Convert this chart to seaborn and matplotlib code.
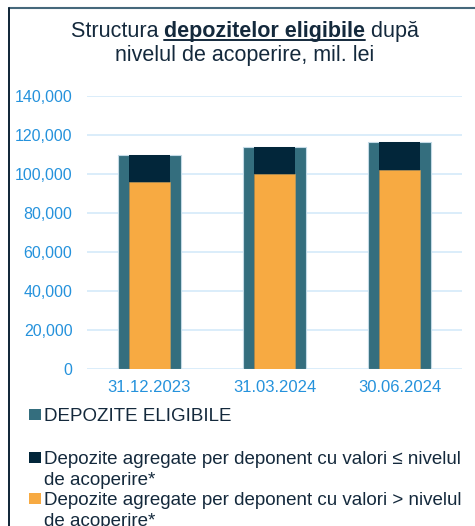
import matplotlib
matplotlib.use("Agg")
import matplotlib.pyplot as plt
import seaborn as sns
import pandas as pd
from matplotlib.lines import Line2D
from matplotlib.patches import Rectangle
from matplotlib.ticker import FuncFormatter

# values, mil. lei
dates = ["31.12.2023", "31.03.2024", "30.06.2024"]
eligibile = [110000, 113800, 116700]
peste_nivel = [95900, 100000, 102000]      # orange, bottom part
sub_nivel = [14100, 13800, 14700]          # dark, stacked on top

legend_labels = [
    ["DEPOZITE ELIGIBILE"],
    ["Depozite agregate per deponent cu valori \u2264 nivelul", "de acoperire*"],
    ["Depozite agregate per deponent cu valori > nivelul", "de acoperire*"],
]

c_total = "#346E7E"
c_dark = "#02263A"
c_orange = "#F7AA42"
c_tick = "#2592DC"
c_text = "#14293C"

df = pd.DataFrame({"data": dates, "total": eligibile,
                   "peste": peste_nivel, "sub": sub_nivel})
df["stack"] = df["peste"] + df["sub"]

sns.set_style("white")
plt.rcParams["font.family"] = ["Liberation Sans", "DejaVu Sans"]

W, H = 475, 526
fig = plt.figure(figsize=(W / 100, H / 100), dpi=100)
ax = fig.add_axes([87 / W, 1 - 369 / H, 375 / W, 272.7 / H])

sns.barplot(data=df, x="data", y="total", color=c_total, saturation=1,
            width=0.5, edgecolor="#C3DAE6", linewidth=0.8, ax=ax, zorder=2)
sns.barplot(data=df, x="data", y="stack", color=c_dark, saturation=1,
            width=0.333, linewidth=0, ax=ax, zorder=3)
sns.barplot(data=df, x="data", y="peste", color=c_orange, saturation=1,
            width=0.333, edgecolor="#C9A060", linewidth=0.4, ax=ax, zorder=4)

ax.set_xlim(-0.5, 2.5)
ax.set_ylim(0, 140000)
ax.set_yticks(range(0, 140001, 20000))
ax.yaxis.set_major_formatter(FuncFormatter(lambda v, p: f"{int(v):,}"))
ax.grid(axis="y", color="#D8ECFA", linewidth=1.3)
ax.set_axisbelow(True)
ax.set_xlabel("")
ax.set_ylabel("")
for s in ax.spines.values():
    s.set_visible(False)
ax.tick_params(axis="y", length=0, pad=10.5, labelsize=11.5, labelcolor=c_tick)
ax.tick_params(axis="x", length=0, pad=8, labelsize=12, labelcolor=c_tick)

# frame around the chart
fig.add_artist(Line2D([9 / W, 1.02], [1 - 8 / H, 1 - 8 / H], color="#46687B",
                      linewidth=1.5, transform=fig.transFigure))
fig.add_artist(Line2D([9 / W, 9 / W], [1 - 8 / H, -0.02], color="#0E2436",
                      linewidth=1.4, transform=fig.transFigure))

# title with bold underlined part
fig.canvas.draw()
r = fig.canvas.get_renderer()
parts = [("Structura ", "normal"), ("depozitelor eligibile", "bold"), (" dup\u0103", "normal")]
ts = 15.5
tmp = []
for txt, wgt in parts:
    t = fig.text(0, 0, txt, fontsize=ts, fontweight=wgt, color=c_text)
    tmp.append(t)
widths = [t.get_window_extent(r).width for t in tmp]
total_w = sum(widths)
x0 = 245 - total_w / 2
yb = H - 36.7
for t, w in zip(tmp, widths):
    t.set_position((x0 / W, yb / H))
    t.set_va("baseline")
    if t.get_fontweight() == "bold":
        fig.add_artist(Line2D([x0 / W, (x0 + w) / W], [(yb - 3) / H, (yb - 3) / H],
                              color=c_text, linewidth=1.4, transform=fig.transFigure))
    x0 += w
fig.text(245 / W, (H - 60.6) / H, "nivelul de acoperire, mil. lei", fontsize=ts,
         color=c_text, ha="center", va="baseline")

# legend
marker_cols = [c_total, c_dark, c_orange]
marker_y = [414.5, 457.7, 498.2]
for col, my, lines in zip(marker_cols, marker_y, legend_labels):
    fig.add_artist(Rectangle((29 / W, (H - my - 5.5) / H), 11.5 / W, 11 / H,
                             facecolor=col, edgecolor="none", transform=fig.transFigure))
    for i, line in enumerate(lines):
        fig.text(44 / W, (H - my - 6.5 - 21 * i) / H, line, fontsize=13.5,
                 color=c_text, va="baseline")

fig.savefig("out.png", dpi=100)
